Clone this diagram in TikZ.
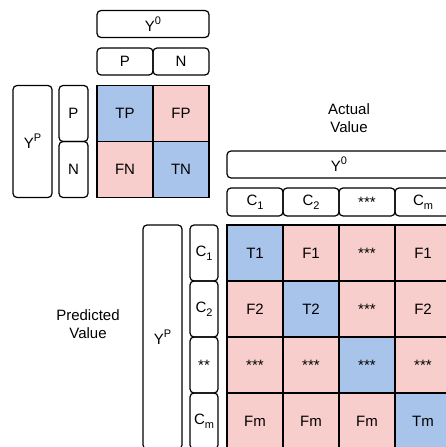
\documentclass[tikz,border=0pt]{standalone}
\usepackage{fontspec}
\setmainfont{Liberation Sans}
\definecolor{cellBlue}{HTML}{A9C4EB}
\definecolor{cellPink}{HTML}{F8CECC}
\newcommand{\upidx}[1]{\raisebox{0.45em}{\fontsize{11}{11}\selectfont #1}}
\newcommand{\lowidx}[1]{\raisebox{-0.28em}{\fontsize{11}{11}\selectfont #1}}

\begin{document}
\begin{tikzpicture}[x=1pt,y=-1pt,
      lbox/.style={draw,line width=1.2pt,rounded corners=4pt,inner sep=0pt,font=\fontsize{15}{17}\selectfont},
      cell/.style={draw,line width=1.2pt,minimum width=56pt,minimum height=56pt,inner sep=0pt,font=\fontsize{15}{17}\selectfont},
      caption/.style={align=center,font=\fontsize{15}{18}\selectfont}
    ]
    \clip (0,0) rectangle (446,447);
    % binary case
    \node[cell,fill=cellBlue] (tp) at (125,113.5) {TP};
    \node[cell,fill=cellPink] (fp) at (181,113.5) {FP};
    \node[cell,fill=cellPink] (fn) at (125,169.5) {FN};
    \node[cell,fill=cellBlue] (tn) at (181,169.5) {TN};
    \node[lbox,minimum width=56pt,minimum height=27pt] (tP) at (125,61.5) {P};
    \node[lbox,minimum width=56pt,minimum height=27pt] (tN) at (181,61.5) {N};
    \node[lbox,minimum width=112pt,minimum height=27pt] (tY) at (153,24) {Y\upidx{0}};
    \node[lbox,minimum width=29pt,minimum height=56pt] (lP) at (73.5,113.5) {P};
    \node[lbox,minimum width=29pt,minimum height=56pt] (lN) at (73.5,169.5) {N};
    \node[lbox,minimum width=39pt,minimum height=112pt] (lY) at (32.5,141.5) {Y\upidx{P}};
    % multi-class case
    \node[caption] (act) at (349,118) {Actual\\Value};
    \node[caption] (pred) at (88,324) {Predicted\\Value};
    \node[lbox,minimum width=224pt,minimum height=27pt] (bY0) at (339,164.5) {Y\upidx{0}};
    \node[lbox,minimum width=39pt,minimum height=224pt] (bYP) at (162.5,337) {Y\upidx{P}};
    \foreach \i/\lab in {1/C\lowidx{1},2/C\lowidx{2},3/***,4/C\lowidx{m}}{
      \node[lbox,minimum width=56pt,minimum height=28pt] (c\i) at ({227+28+56*(\i-1)},202) {\lab};
    }
    \foreach \i/\lab in {1/C\lowidx{1},2/C\lowidx{2},3/**,4/C\lowidx{m}}{
      \node[lbox,minimum width=28pt,minimum height=56pt] (r\i) at (204,{225+28+56*(\i-1)}) {\lab};
    }
    \foreach \r/\c/\lab/\col in {1/1/T1/cellBlue,1/2/F1/cellPink,1/3/***/cellPink,1/4/F1/cellPink,
        2/1/F2/cellPink,2/2/T2/cellBlue,2/3/***/cellPink,2/4/F2/cellPink,
        3/1/***/cellPink,3/2/***/cellPink,3/3/***/cellBlue,3/4/***/cellPink,
        4/1/Fm/cellPink,4/2/Fm/cellPink,4/3/Fm/cellPink,4/4/Tm/cellBlue}{
      \node[cell,fill=\col] (m\r\c) at ({227+28+56*(\c-1)},{225+28+56*(\r-1)}) {\lab};
    }
  \end{tikzpicture}
\end{document}
